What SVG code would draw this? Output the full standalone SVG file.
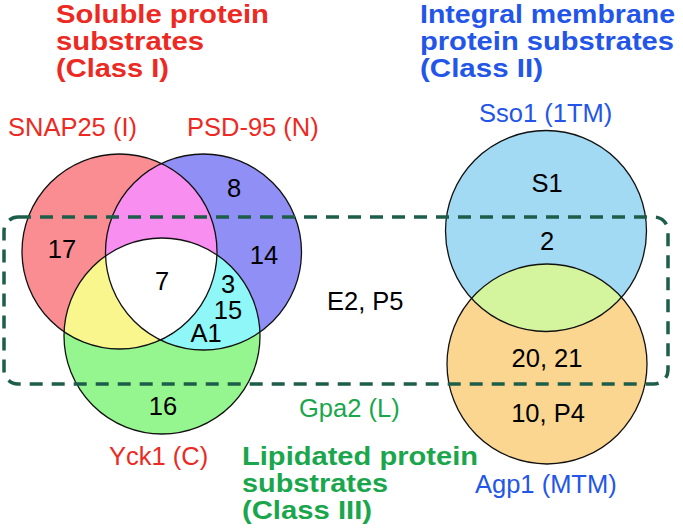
<svg xmlns="http://www.w3.org/2000/svg" width="683" height="532" viewBox="0 0 683 532">
<style>
  text { font-family: "Liberation Sans", Arial, sans-serif; }
  .title { font-weight: bold; font-size: 26px; }
  .lab { font-size: 25.5px; }
  .num { font-size: 25.5px; fill: #000; text-anchor: middle; }
  .red { fill: #ec2a23; }
  .blue { fill: #2356e8; }
  .green { fill: #1aa64c; }
  .ring { fill: none; stroke: #111; stroke-width: 1.3; }
</style>
<defs>
  <clipPath id="cRed"><circle cx="119.5" cy="251.5" r="97.5"/></clipPath>
  <clipPath id="cBlue"><circle cx="203.5" cy="252" r="98"/></clipPath>
  <clipPath id="cGreen"><circle cx="162" cy="336" r="98"/></clipPath>
  <clipPath id="cSso"><circle cx="546" cy="231" r="100.5"/></clipPath>
</defs>
<rect width="683" height="532" fill="#fff"/>

<g id="title-class1" class="title red">
  <text x="56" y="23" textLength="213" lengthAdjust="spacingAndGlyphs">Soluble protein</text>
  <text x="56" y="50" textLength="148" lengthAdjust="spacingAndGlyphs">substrates</text>
  <text x="56" y="77" textLength="113" lengthAdjust="spacingAndGlyphs">(Class I)</text>
</g>
<g id="title-class2" class="title blue">
  <text x="420" y="23" textLength="255" lengthAdjust="spacingAndGlyphs">Integral membrane</text>
  <text x="420" y="50" textLength="254" lengthAdjust="spacingAndGlyphs">protein substrates</text>
  <text x="420" y="77" textLength="123" lengthAdjust="spacingAndGlyphs">(Class II)</text>
</g>
<g id="title-class3" class="title green">
  <text x="242" y="465" textLength="236" lengthAdjust="spacingAndGlyphs">Lipidated protein</text>
  <text x="242" y="492" textLength="146" lengthAdjust="spacingAndGlyphs">substrates</text>
  <text x="242" y="519" textLength="130" lengthAdjust="spacingAndGlyphs">(Class III)</text>
</g>

<g id="venn-soluble">
  <circle cx="119.5" cy="251.5" r="97.5" fill="#f98d92"/>
  <circle cx="203.5" cy="252" r="98" fill="#8f8ff5"/>
  <circle cx="162" cy="336" r="98" fill="#95f58e"/>
  <g clip-path="url(#cRed)"><circle cx="203.5" cy="252" r="98" fill="#f78ef0"/></g>
  <g clip-path="url(#cRed)"><circle cx="162" cy="336" r="98" fill="#f9f68e"/></g>
  <g clip-path="url(#cBlue)"><circle cx="162" cy="336" r="98" fill="#8ff7f7"/></g>
  <g clip-path="url(#cRed)"><g clip-path="url(#cBlue)"><circle cx="162" cy="336" r="98" fill="#ffffff"/></g></g>
  <circle class="ring" cx="119.5" cy="251.5" r="97.5"/>
  <circle class="ring" cx="203.5" cy="252" r="98"/>
  <circle class="ring" cx="162" cy="336" r="98"/>
</g>

<g id="node-snap25">
  <text class="lab red" x="8" y="136">SNAP25 (I)</text>
  <text class="num" x="62" y="258">17</text>
</g>
<g id="node-psd95">
  <text class="lab red" x="187" y="136">PSD-95 (N)</text>
  <text class="num" x="234" y="197">8</text>
  <text class="num" x="264" y="264">14</text>
</g>
<g id="node-yck1">
  <text class="lab red" x="109" y="465">Yck1 (C)</text>
  <text class="num" x="163" y="415">16</text>
</g>
<g id="node-overlaps">
  <text class="num" x="162" y="290">7</text>
  <text class="num" x="228" y="293">3</text>
  <text class="num" x="228" y="319">15</text>
  <text class="num" x="206" y="342">A1</text>
</g>
<g id="node-gpa2">
  <text class="lab green" x="299" y="417">Gpa2 (L)</text>
  <text class="lab" x="327" y="310" fill="#000">E2, P5</text>
</g>

<g id="venn-membrane">
  <circle cx="546" cy="231" r="100.5" fill="#a2d9f3"/>
  <circle cx="547" cy="364" r="100" fill="#fbd690"/>
  <g clip-path="url(#cSso)"><circle cx="547" cy="364" r="100" fill="#d4f59e"/></g>
  <circle class="ring" cx="546" cy="231" r="100.5"/>
  <circle class="ring" cx="547" cy="364" r="100"/>
</g>
<g id="node-sso1">
  <text class="lab blue" x="479" y="122">Sso1 (1TM)</text>
  <text class="num" x="547" y="192">S1</text>
  <text class="num" x="547" y="250">2</text>
</g>
<g id="node-agp1">
  <text class="lab blue" x="475" y="493">Agp1 (MTM)</text>
  <text class="num" x="547" y="367">20, 21</text>
  <text class="num" x="548" y="422">10, P4</text>
</g>

<g id="connectors">
  <rect id="lipid-box" x="4" y="217" width="664" height="167" rx="14" ry="14" fill="none" stroke="#1d5e4b" stroke-width="3.5" stroke-dasharray="13 9"/>
</g>
</svg>
